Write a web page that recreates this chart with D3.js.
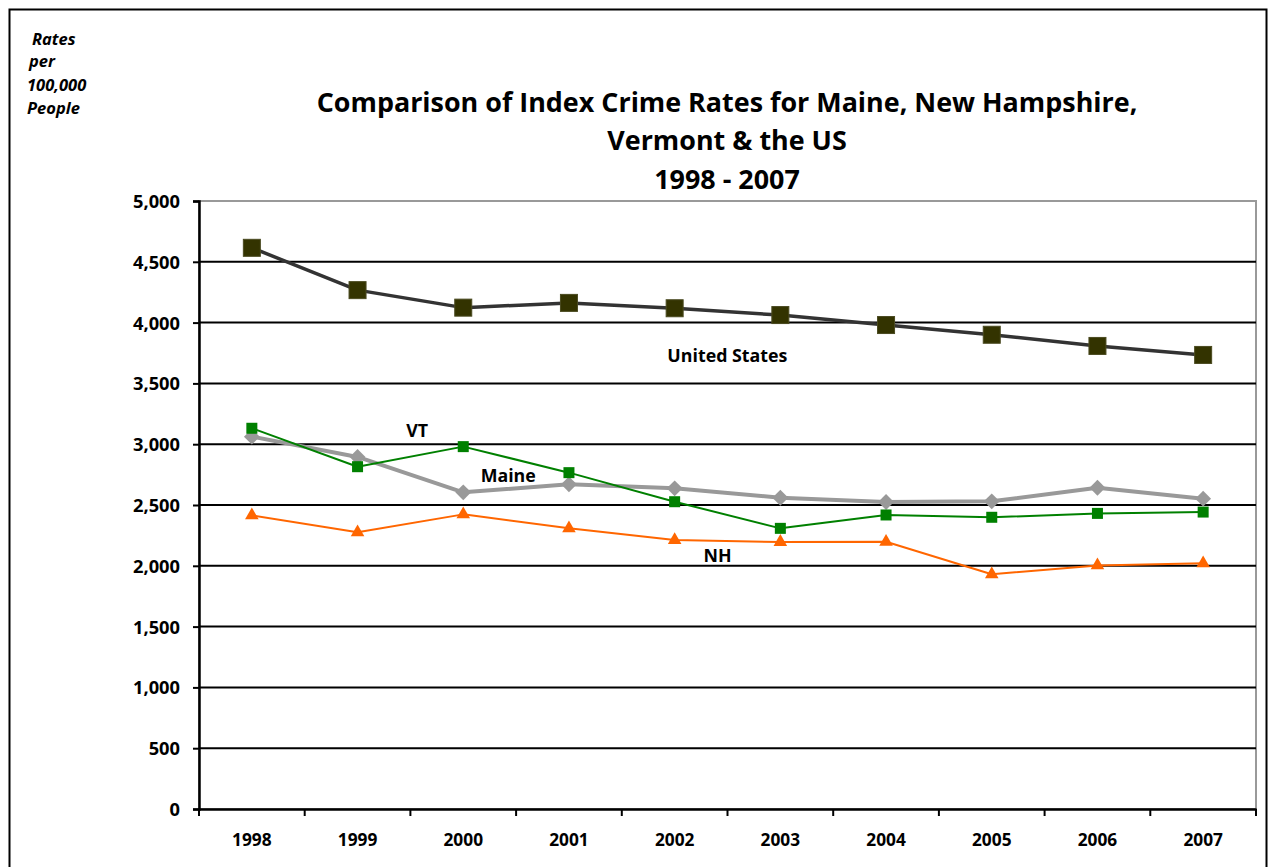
<!DOCTYPE html>
<html><head><meta charset="utf-8">
<script src="https://cdn.jsdelivr.net/npm/d3@7"></script>
<style>
html,body{margin:0;padding:0;background:#fff;}
svg{display:block;font-family:"Open Sans",sans-serif;}
</style></head>
<body>
<svg id="c" width="1276" height="867"></svg>
<script>
const years = ["1998","1999","2000","2001","2002","2003","2004","2005","2006","2007"];
const usValues    = [4615, 4267, 4123, 4162, 4118, 4062, 3980, 3900, 3808, 3734];
const maineValues = [3062, 2895, 2604, 2670, 2637, 2560, 2525, 2530, 2642, 2552];
const vtValues    = [3131, 2815, 2980, 2766, 2527, 2308, 2418, 2399, 2431, 2442];
const nhValues    = [2415, 2275, 2423, 2308, 2212, 2196, 2198, 1930, 2003, 2020];
const yTicks = [0, 500, 1000, 1500, 2000, 2500, 3000, 3500, 4000, 4500, 5000];
const titleLines = ["Comparison of Index Crime Rates for Maine, New Hampshire,", "Vermont & the US", "1998 - 2007"];
const yLabelLines = ["Rates", "per", "100,000", "People"];
const FONT = "'Open Sans', sans-serif";

const svg = d3.select("#c");
const L = 199, R = 1256, T = 201, B = 809;

// outer border
svg.append("rect").attr("x",9.5).attr("y",9.5).attr("width",1257).attr("height",870)
  .attr("fill","none").attr("stroke","#000").attr("stroke-width",2);

const x = d3.scaleBand().domain(years).range([L,R]).padding(0);
const y = d3.scaleLinear().domain([0,5000]).range([B,T]);

// plot border (gray)
svg.append("rect").attr("x",L).attr("y",T).attr("width",R-L).attr("height",B-T)
  .attr("fill","none").attr("stroke","#999").attr("stroke-width",2);

// gridlines
svg.append("g").selectAll("line").data(yTicks.filter(v=>v>0 && v<5000)).join("line")
  .attr("x1",L).attr("x2",R).attr("y1",d=>y(d)).attr("y2",d=>y(d))
  .attr("stroke","#000").attr("stroke-width",2);

// y axis
const ya = svg.append("g").attr("transform",`translate(${L},0)`)
  .call(d3.axisLeft(y).tickValues(yTicks).tickFormat(d3.format(",")).tickSize(6).tickPadding(13));
ya.select(".domain").attr("stroke","#000").attr("stroke-width",2.5);
ya.selectAll(".tick line").attr("stroke","#000").attr("stroke-width",2);
ya.selectAll("text").attr("font-family",FONT).attr("font-weight","bold").attr("font-size",18.3).attr("fill","#000").attr("dy","0.36em");

// x axis
const xa = svg.append("g").attr("transform",`translate(0,${B})`)
  .call(d3.axisBottom(x).tickSize(0).tickPadding(25));
xa.select(".domain").attr("stroke","#000").attr("stroke-width",2.5);
xa.selectAll("text").attr("font-family",FONT).attr("font-weight","bold").attr("font-size",17.3).attr("fill","#000");
// x ticks at band boundaries
svg.append("g").selectAll("line").data(years.concat(["end"])).join("line")
  .attr("x1",(d,i)=>L+i*x.bandwidth()).attr("x2",(d,i)=>L+i*x.bandwidth())
  .attr("y1",B).attr("y2",B+7).attr("stroke","#000").attr("stroke-width",2);

const cx = d => x(d) + x.bandwidth()/2;
const line = d3.line().x((d,i)=>cx(years[i])).y(d=>y(d));

function series(vals, color, width, markerFn){
  const g = svg.append("g");
  g.append("path").datum(vals).attr("d",line).attr("fill","none")
    .attr("stroke",color).attr("stroke-width",width).attr("stroke-linejoin","round");
  g.selectAll(".m").data(vals).join(markerFn);
}

// US
series(usValues, "#333333", 3.5, enter => enter.append("rect")
  .attr("x",(d,i)=>cx(years[i])-8.5).attr("y",d=>y(d)-8.5).attr("width",17).attr("height",17)
  .attr("fill","#333300").attr("stroke","#4a4a20").attr("stroke-width",1));
// Maine
series(maineValues, "#999999", 4, enter => enter.append("path")
  .attr("d",d3.symbol().type(d3.symbolDiamond2).size(160))
  .attr("transform",(d,i)=>`translate(${cx(years[i])},${y(d)})`)
  .attr("fill","#999999"));
// VT
series(vtValues, "#008000", 2, enter => enter.append("rect")
  .attr("x",(d,i)=>cx(years[i])-5.5).attr("y",d=>y(d)-5.5).attr("width",11).attr("height",11)
  .attr("fill","#008000"));
// NH
series(nhValues, "#FF6600", 2, enter => enter.append("path")
  .attr("d",d3.symbol().type(d3.symbolTriangle).size(80))
  .attr("transform",(d,i)=>`translate(${cx(years[i])},${y(d)})`)
  .attr("fill","#FF6600"));

// series labels (anchored relative to data positions)
const labels = [
  {t:"United States", x:cx("2003")-53, v:3680},
  {t:"VT", x:cx("2000")-46, v:3060},
  {t:"Maine", x:cx("2000")+45, v:2690},
  {t:"NH", x:cx("2002")+43, v:2035}
];
svg.append("g").selectAll("text").data(labels).join("text")
  .attr("x",d=>d.x).attr("y",d=>y(d.v)).attr("text-anchor","middle")
  .attr("font-family",FONT).attr("font-weight","bold").attr("font-size",17.8).attr("fill","#000")
  .text(d=>d.t);

// title
svg.append("g").selectAll("text").data(titleLines).join("text")
  .attr("x",727).attr("y",(d,i)=>[112,150,189][i]).attr("text-anchor","middle")
  .attr("font-family",FONT).attr("font-weight","bold").attr("font-size",26.9).attr("fill","#000")
  .text(d=>d);

// y label
svg.append("g").selectAll("text").data(yLabelLines).join("text")
  .attr("x",(d,i)=>[32,29,27,27][i]).attr("y",(d,i)=>[45,67,91,114][i])
  .attr("font-family",FONT).attr("font-weight","bold").attr("font-style","italic").attr("font-size",16.5).attr("fill","#000")
  .text(d=>d);
</script>
</body></html>
